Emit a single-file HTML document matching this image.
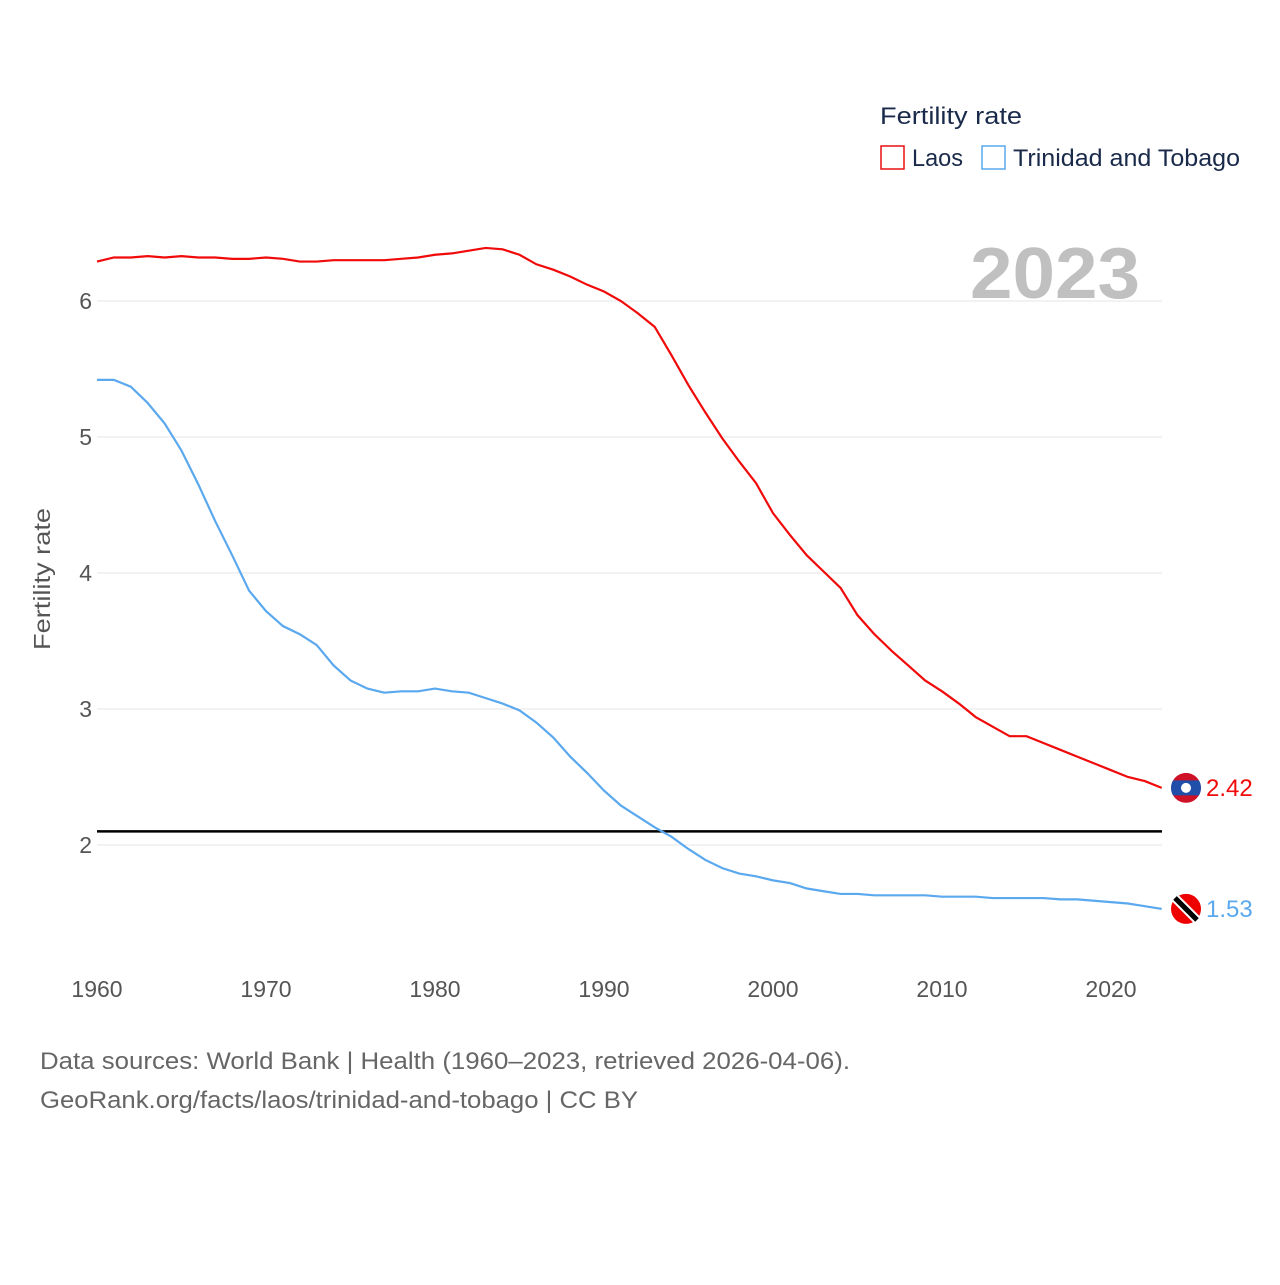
<!DOCTYPE html>
<html><head><meta charset="utf-8"><style>
body{margin:0;background:#fff;font-family:"Liberation Sans",sans-serif}
svg text{font-family:"Liberation Sans",sans-serif}
</style></head><body>
<svg id="chart" width="1280" height="1280" xmlns="http://www.w3.org/2000/svg">
<defs><clipPath id="laclip"><circle cx="1186" cy="0" r="15" id="laclipc"/></clipPath></defs>
<g id="grid"></g>
<g id="yt"></g>
<g id="xt"></g>
<text x="50" y="579" transform="rotate(-90 50 579)" text-anchor="middle" font-size="23" fill="#555" textLength="142" lengthAdjust="spacingAndGlyphs">Fertility rate</text>
<text x="970" y="298" font-size="72" font-weight="bold" fill="#c0c0c0" textLength="170" lengthAdjust="spacingAndGlyphs">2023</text>
<g id="series"></g>
<text x="880" y="124" font-size="24" fill="#1a2a4a" textLength="142" lengthAdjust="spacingAndGlyphs">Fertility rate</text>
<g><rect x="881" y="146" width="23" height="23" fill="none" stroke="#e81010" stroke-width="1.5"/><text x="912" y="166" font-size="24" fill="#1a2a4a" textLength="51" lengthAdjust="spacingAndGlyphs">Laos</text></g>
<g><rect x="982" y="146" width="23" height="23" fill="none" stroke="#5aa8ee" stroke-width="1.5"/><text x="1013" y="166" font-size="24" fill="#1a2a4a" textLength="227" lengthAdjust="spacingAndGlyphs">Trinidad and Tobago</text></g>
<text x="40" y="1069" font-size="24" fill="#666" textLength="810" lengthAdjust="spacingAndGlyphs">Data sources: World Bank | Health (1960–2023, retrieved 2026-04-06).</text>
<text x="40" y="1108" font-size="24" fill="#666" textLength="598" lengthAdjust="spacingAndGlyphs">GeoRank.org/facts/laos/trinidad-and-tobago | CC BY</text>
</svg>
<script>
const years=[];for(let y=1960;y<=2023;y++)years.push(y);
const laos=[6.29,6.32,6.32,6.33,6.32,6.33,6.32,6.32,6.31,6.31,6.32,6.31,6.29,6.29,6.30,6.30,6.30,6.30,6.31,6.32,6.34,6.35,6.37,6.39,6.38,6.34,6.27,6.23,6.18,6.12,6.07,6.00,5.91,5.81,5.60,5.38,5.18,4.99,4.82,4.66,4.44,4.28,4.13,4.01,3.89,3.69,3.55,3.43,3.32,3.21,3.13,3.04,2.94,2.87,2.80,2.80,2.75,2.70,2.65,2.60,2.55,2.50,2.47,2.42];
const tt=[5.42,5.42,5.37,5.25,5.10,4.90,4.65,4.38,4.13,3.87,3.72,3.61,3.55,3.47,3.32,3.21,3.15,3.12,3.13,3.13,3.15,3.13,3.12,3.08,3.04,2.99,2.90,2.79,2.65,2.53,2.40,2.29,2.21,2.13,2.06,1.97,1.89,1.83,1.79,1.77,1.74,1.72,1.68,1.66,1.64,1.64,1.63,1.63,1.63,1.63,1.62,1.62,1.62,1.61,1.61,1.61,1.61,1.60,1.60,1.59,1.58,1.57,1.55,1.53];
const yTicks=[2,3,4,5,6];
const xTicks=[1960,1970,1980,1990,2000,2010,2020];
const replacement=2.1;
const X=y=>97+(y-1960)*16.9, Y=v=>845-(v-2)*136;
const NS="http://www.w3.org/2000/svg";
function el(t,a,p){const e=document.createElementNS(NS,t);for(const k in a)e.setAttribute(k,a[k]);(typeof p==='string'?document.getElementById(p):p).appendChild(e);return e;}
yTicks.forEach(v=>{
 const l=el('line',{x1:97,x2:1162,y1:Y(v),y2:Y(v),stroke:'#e6e6e6','stroke-width':1},'grid');
 
 
 const t=el('text',{x:92,y:Y(v)+8,'text-anchor':'end','font-size':23,fill:'#555'},'yt');t.textContent=v;
 
 
});
xTicks.forEach(v=>{
 const t=el('text',{x:X(v),y:997,'text-anchor':'middle','font-size':23,fill:'#555'},'xt');t.textContent=v;
 
 
});
const rl=el('line',{x1:97,x2:1162,y1:Y(replacement),y2:Y(replacement),stroke:'#000','stroke-width':2.5},'series');


function line(d,c,name){
 const p=el('path',{d:d.map((v,i)=>(i?'L':'M')+X(years[i])+','+Y(v)).join(''),fill:'none',stroke:c,'stroke-width':2.2},'series');
 
 
}
line(laos,'#f00a0a','laos-line');line(tt,'#5aa8ee','trinidad-line');
function endLabel(v,c,name,flag){
 const y=Y(v),g=el('g',{},'series');
 
 
 if(flag==='la'){document.getElementById('laclipc').setAttribute('cy',y);
  const f=el('g',{'clip-path':'url(#laclip)'},g);
  el('circle',{cx:1186,cy:y,r:15,fill:'#ce1126'},f);el('rect',{x:1171,y:y-7.5,width:30,height:15,fill:'#1f4fa8'},f);el('circle',{cx:1186,cy:y,r:5,fill:'#fff'},f);}
 else{el('circle',{cx:1186,cy:y,r:15,fill:'#e00'},g);el('line',{x1:1175,y1:y-11,x2:1197,y2:y+11,stroke:'#fff','stroke-width':9},g);el('line',{x1:1175,y1:y-11,x2:1197,y2:y+11,stroke:'#000','stroke-width':5},g);}
 const t=el('text',{x:1206,y:y+8,'font-size':24,fill:c},g);t.textContent=v.toFixed(2);
}
endLabel(laos[laos.length-1],'#f00a0a','laos-end-label','la');
endLabel(tt[tt.length-1],'#5aa8ee','trinidad-end-label','tt');
</script>
</body></html>
